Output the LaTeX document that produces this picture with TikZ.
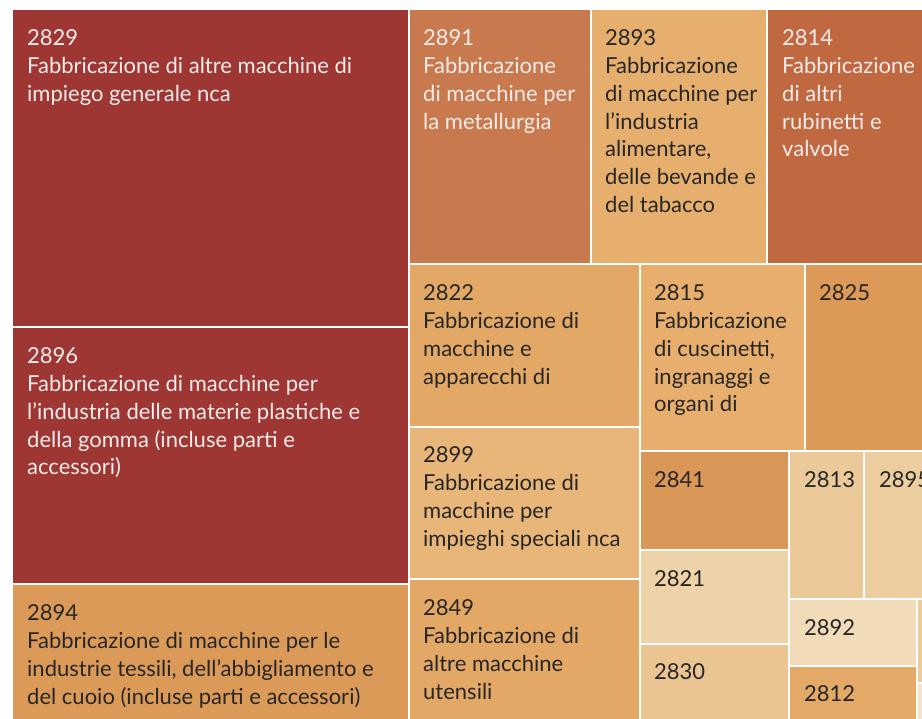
\documentclass[tikz,border=0pt]{standalone}
\usepackage{fontspec}
\setmainfont{Lato}
\usepackage{tikz}

\definecolor{rosso}{HTML}{9E3634}
\definecolor{ruggine}{HTML}{C06840}
\definecolor{rame}{HTML}{C87A4E}
\definecolor{ocra}{HTML}{DC9958}
\definecolor{arancio}{HTML}{E3A866}
\definecolor{albicocca}{HTML}{E7AF6E}
\definecolor{sabbia}{HTML}{E9B67A}
\definecolor{paglia}{HTML}{EAC592}
\definecolor{crema}{HTML}{EED2A8}
\definecolor{testoscuro}{HTML}{262626}
\definecolor{testochiaro}{HTML}{F7ECEA}

\tikzset{
  etichetta/.style={anchor=north west, inner sep=0pt, align=left, text=testoscuro,
    font=\fontsize{22}{27.8}\selectfont},
  chiara/.style={etichetta, text=testochiaro}
}

\begin{document}
\begin{tikzpicture}[x=1pt, y=-1pt]
	\useasboundingbox[fill=white] (0,0) rectangle (922,719);
	\fill[rosso] (13,10) rectangle (408,326);
	\fill[rosso] (13,328) rectangle (408,583);
	\fill[ocra!96!arancio] (13,585) rectangle (408,719);
	\fill[rame] (410,10) rectangle (590,263);
	\fill[albicocca] (592,10) rectangle (766,263);
	\fill[ruggine] (768,10) rectangle (922,263);
	\fill[arancio] (410,265) rectangle (639,426);
	\fill[sabbia] (410,428) rectangle (639,578);
	\fill[arancio] (410,580) rectangle (639,719);
	\fill[albicocca!90!arancio] (641,265) rectangle (804,450);
	\fill[ocra] (806,265) rectangle (922,450);
	\fill[ocra!95!rame] (641,452) rectangle (788,549);
	\fill[crema] (641,551) rectangle (788,643);
	\fill[paglia] (641,645) rectangle (788,719);
	\fill[paglia!70!crema] (790,452) rectangle (863,598);
	\fill[paglia!40!crema] (865,452) rectangle (922,598);
	\fill[crema!80!white] (790,600) rectangle (916,665);
	\fill[arancio!85!albicocca] (790,667) rectangle (916,719);
	\fill[paglia!60!crema] (918,600) rectangle (922,682);
	\fill[crema!60!white] (918,684) rectangle (922,719);
	\node[chiara] (c2829) at (27,29.5) {2829\\Fabbricazione di altre macchine di\\impiego generale nca};
	\node[chiara] (c2896) at (27,347.5) {2896\\Fabbricazione di macchine per\\l’industria delle materie plastiche e\\della gomma (incluse parti e\\accessori)};
	\node[etichetta] (c2894) at (27,604.5) {2894\\Fabbricazione di macchine per le\\industrie tessili, dell’abbigliamento e\\del cuoio (incluse parti e accessori)};
	\node[chiara] (c2891) at (423,29.5) {2891\\Fabbricazione\\di macchine per\\la metallurgia};
	\node[etichetta] (c2893) at (605,29.5) {2893\\Fabbricazione\\di macchine per\\l’industria\\alimentare,\\delle bevande e\\del tabacco};
	\node[chiara] (c2814) at (782,29.5) {2814\\Fabbricazione\\di altri\\rubinetti e\\valvole};
	\node[etichetta] (c2822) at (423,284.5) {2822\\Fabbricazione di\\macchine e\\apparecchi di};
	\node[etichetta] (c2815) at (654,284.5) {2815\\Fabbricazione\\di cuscinetti,\\ingranaggi e\\organi di};
	\node[etichetta] (c2825) at (819,284.5) {2825};
	\node[etichetta] (c2899) at (423,446.5) {2899\\Fabbricazione di\\macchine per\\impieghi speciali nca};
	\node[etichetta] (c2849) at (423,599.5) {2849\\Fabbricazione di\\altre macchine\\utensili};
	\node[etichetta] (c2841) at (654,471.5) {2841};
	\node[etichetta] (c2821) at (654,570.5) {2821};
	\node[etichetta] (c2830) at (654,663.5) {2830};
	\node[etichetta] (c2813) at (804,471.5) {2813};
	\node[etichetta] (c2895) at (879,471.5) {2895};
	\node[etichetta] (c2892) at (804,619.5) {2892};
	\node[etichetta] (c2812) at (804,685.5) {2812};
\end{tikzpicture}
\end{document}
